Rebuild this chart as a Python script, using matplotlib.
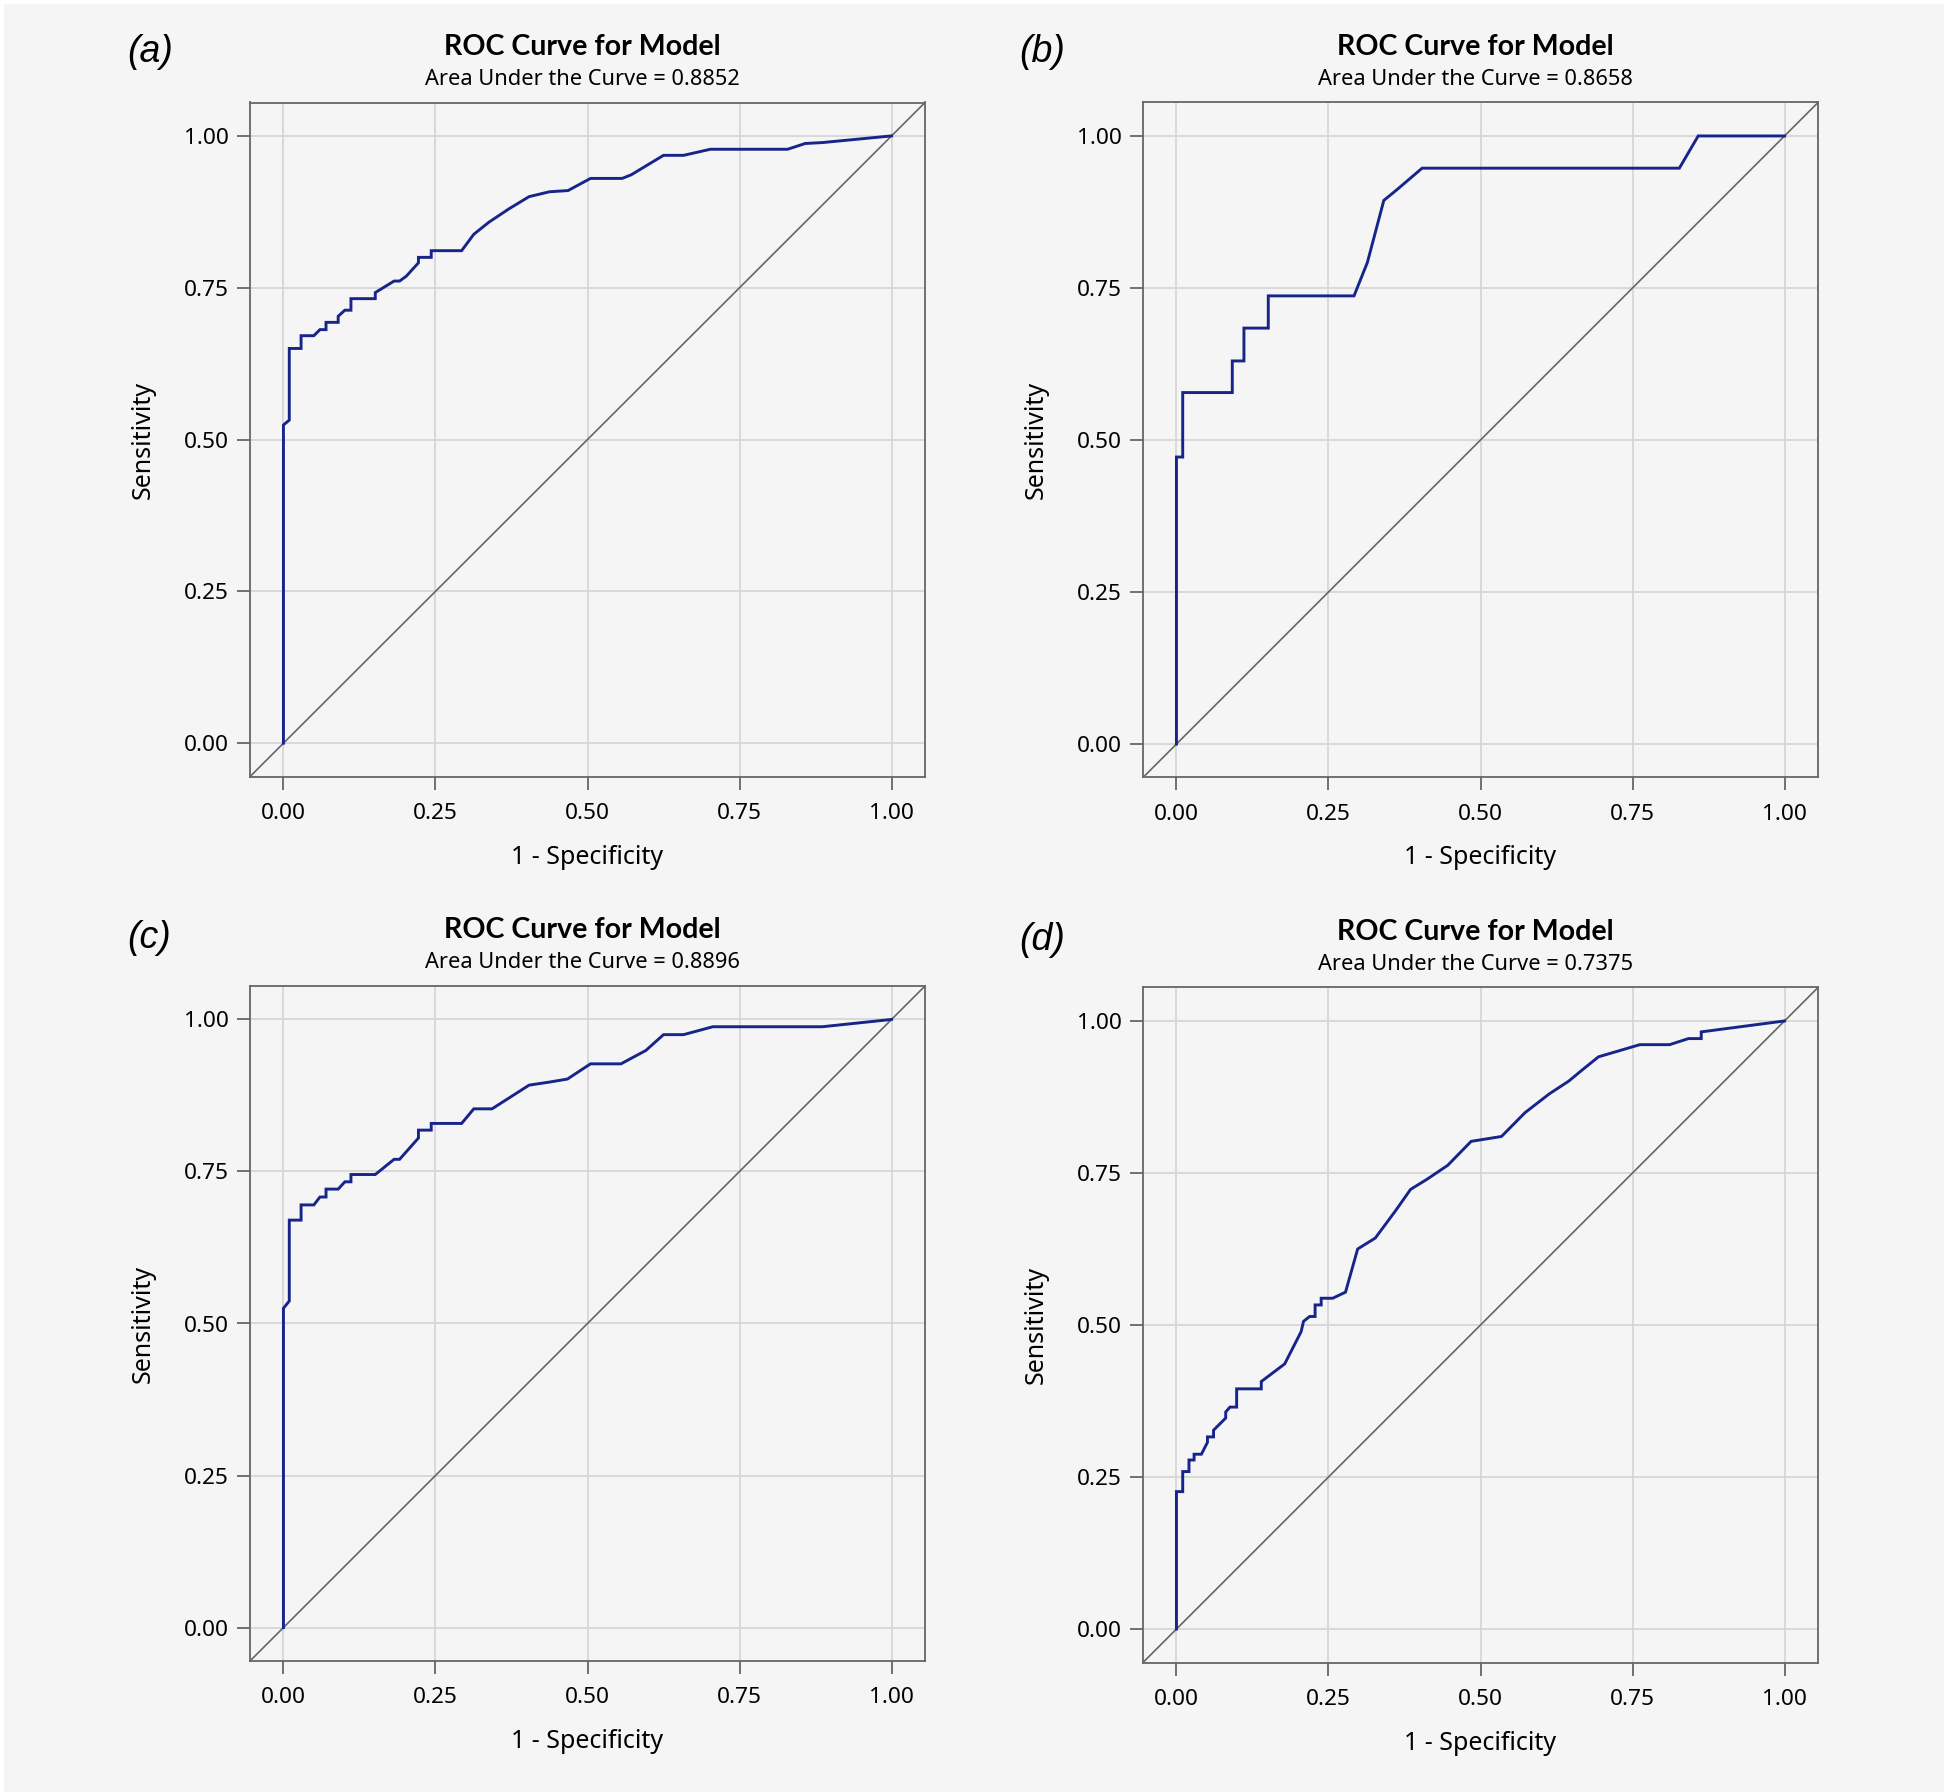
import matplotlib
matplotlib.use("Agg")
import matplotlib.pyplot as plt
from matplotlib.patches import Rectangle

# ---------------- data ----------------
panel_labels = ["(a)", "(b)", "(c)", "(d)"]
auc_values = [0.8852, 0.8658, 0.8896, 0.7375]

fpr_a = [0, 0, 0.0096, 0.0096, 0.029, 0.029, 0.050, 0.060, 0.070, 0.070, 0.090, 0.090,
         0.101, 0.111, 0.111, 0.151, 0.151, 0.182, 0.191, 0.202, 0.222, 0.222, 0.243,
         0.243, 0.293, 0.313, 0.338, 0.371, 0.404, 0.4375, 0.468, 0.505, 0.557, 0.572,
         0.625, 0.658, 0.702, 0.829, 0.858, 0.886, 1.0]
tpr_a = [0, 0.524, 0.532, 0.650, 0.650, 0.671, 0.671, 0.681, 0.681, 0.693, 0.693, 0.703,
         0.713, 0.713, 0.732, 0.732, 0.742, 0.761, 0.761, 0.769, 0.791, 0.800, 0.800,
         0.811, 0.811, 0.838, 0.858, 0.880, 0.900, 0.908, 0.910, 0.930, 0.930, 0.936,
         0.968, 0.968, 0.978, 0.978, 0.9875, 0.989, 1.0]

fpr_b = [0, 0, 0.0103, 0.0103, 0.0918, 0.0918, 0.111, 0.111, 0.151, 0.151, 0.292, 0.314,
         0.341, 0.363, 0.404, 0.827, 0.858, 1.0]
tpr_b = [0, 0.472, 0.472, 0.578, 0.578, 0.630, 0.630, 0.684, 0.684, 0.737, 0.737, 0.792,
         0.894, 0.912, 0.947, 0.947, 1.0, 1.0]

fpr_c = [0, 0, 0.0096, 0.0096, 0.029, 0.029, 0.050, 0.060, 0.070, 0.070, 0.090, 0.101,
         0.111, 0.111, 0.151, 0.182, 0.191, 0.222, 0.222, 0.243, 0.243, 0.293, 0.313,
         0.343, 0.404, 0.4375, 0.467, 0.505, 0.555, 0.596, 0.625, 0.658, 0.706, 0.886, 1.0]
tpr_c = [0, 0.525, 0.537, 0.670, 0.670, 0.695, 0.695, 0.708, 0.708, 0.721, 0.721, 0.733,
         0.733, 0.745, 0.745, 0.770, 0.770, 0.805, 0.818, 0.818, 0.829, 0.829, 0.853,
         0.853, 0.892, 0.897, 0.902, 0.927, 0.927, 0.949, 0.975, 0.975, 0.988, 0.988, 1.0]

fpr_d = [0, 0, 0.0103, 0.0103, 0.0206, 0.0206, 0.029, 0.029, 0.041, 0.051, 0.051, 0.061,
         0.061, 0.081, 0.081, 0.088, 0.099, 0.099, 0.1395, 0.1395, 0.178, 0.205, 0.209,
         0.219, 0.228, 0.228, 0.238, 0.238, 0.257, 0.278, 0.298, 0.327, 0.360, 0.385,
         0.411, 0.446, 0.4846, 0.5345, 0.573, 0.613, 0.645, 0.668, 0.694, 0.7195, 0.762,
         0.811, 0.842, 0.863, 0.863, 1.0]
tpr_d = [0, 0.226, 0.226, 0.259, 0.259, 0.278, 0.278, 0.2875, 0.2875, 0.307, 0.316, 0.316,
         0.327, 0.347, 0.357, 0.365, 0.365, 0.395, 0.395, 0.407, 0.436, 0.489, 0.506,
         0.514, 0.514, 0.533, 0.533, 0.544, 0.544, 0.554, 0.625, 0.643, 0.6875, 0.723,
         0.739, 0.7625, 0.802, 0.810, 0.849, 0.880, 0.901, 0.920, 0.941, 0.9485, 0.961,
         0.961, 0.971, 0.971, 0.982, 1.0]

curves = [(fpr_a, tpr_a), (fpr_b, tpr_b), (fpr_c, tpr_c), (fpr_d, tpr_d)]
ticks = [0.0, 0.25, 0.50, 0.75, 1.00]
tick_labels = ["0.00", "0.25", "0.50", "0.75", "1.00"]

# ---------------- style ----------------
W, H = 1950, 1792
BG = "#f5f5f5"
LINE = "#17258a"
GRAY = "#666666"
GRID = "#d6d6d6"
FONT = ["Noto Sans", "DejaVu Sans"]
BOLD_FONT = ["Lato", "Roboto", "DejaVu Sans"]
plt.rcParams["font.family"] = FONT

fig = plt.figure(figsize=(W / 100, H / 100), dpi=100, facecolor="white")
fig.patches.append(Rectangle((4 / W, 0), 1940 / W, 1788 / H, transform=fig.transFigure,
                             facecolor=BG, edgecolor="none", zorder=-10))

# axes boxes in pixels: left, top, right, bottom
boxes = [(250, 102.5, 925, 776.6), (1143, 102.5, 1818, 777.5),
         (250, 986, 925, 1661), (1143, 987.5, 1818, 1662.5)]
label_pos = [(127, 52), (1019, 52), (127, 938), (1019, 940)]

lim = (-0.055, 1.055)
for i, ((l, t, r, b), (fx, ty)) in enumerate(zip(boxes, curves)):
    ax = fig.add_axes([l / W, 1 - b / H, (r - l) / W, (b - t) / H])
    ax.set_facecolor(BG)
    ax.set_xlim(*lim)
    ax.set_ylim(*lim)
    ax.set_xticks(ticks)
    ax.set_yticks(ticks)
    ax.set_xticklabels(tick_labels)
    ax.set_yticklabels(tick_labels)
    ax.grid(True, color=GRID, linewidth=1.3, zorder=0)
    ax.set_axisbelow(True)
    for s in ax.spines.values():
        s.set_color(GRAY)
        s.set_linewidth(1.3)
    ax.tick_params(axis="both", direction="out", length=9.5, width=1.3, color=GRAY,
                   labelsize=16.3, labelcolor="black")
    ax.tick_params(axis="x", pad=9.5)
    ax.tick_params(axis="y", pad=6)
    ax.axline((0, 0), (1, 1), color=GRAY, linewidth=1.2, zorder=2)
    ax.plot(fx, ty, color=LINE, linewidth=2.1, zorder=3, solid_joinstyle="miter")
    ax.set_xlabel("1 - Specificity", fontsize=18)
    ax.set_ylabel("Sensitivity", fontsize=18)
    ax.xaxis.set_label_coords(0.5, -80.5 / (b - t))
    ax.xaxis.label.set_va("center")
    ax.yaxis.set_label_coords(-107 / (r - l), 0.5)
    ax.yaxis.label.set_va("center")
    ax.text(0.492, 1 + 55.5 / (b - t), "ROC Curve for Model", transform=ax.transAxes,
            ha="center", va="center", fontsize=20.6, fontweight="bold", family=BOLD_FONT)
    ax.text(0.492, 1 + 23 / (b - t), f"Area Under the Curve = {auc_values[i]:.4f}",
            transform=ax.transAxes, ha="center", va="center", fontsize=15.7)
    fig.text(label_pos[i][0] / W, 1 - label_pos[i][1] / H, panel_labels[i],
             ha="left", va="center", fontsize=27, style="italic",
             family=["Liberation Sans", "DejaVu Sans"])

fig.savefig("out.png", dpi=100, facecolor="white")
